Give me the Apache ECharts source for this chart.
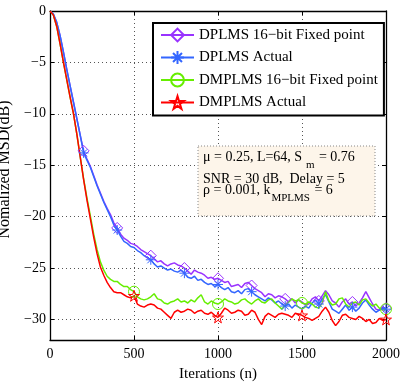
<!DOCTYPE html>
<html><head><meta charset="utf-8">
<script src="https://cdn.jsdelivr.net/npm/echarts@6/dist/echarts.min.js"></script>
<style>html,body{margin:0;padding:0;background:#fff}#c{width:409px;height:382px}</style>
</head><body><div id="c"></div>
<script>
const iterations = [0,20,40,60,80,100,120,140,160,180,200,220,240,260,280,300,320,340,360,380,400,420,440,460,480,500,520,540,560,580,600,620,640,660,680,700,720,740,760,780,800,820,840,860,880,900,920,940,960,980,1000,1020,1040,1060,1080,1100,1120,1140,1160,1180,1200,1220,1240,1260,1280,1300,1320,1340,1360,1380,1400,1420,1440,1460,1480,1500,1520,1540,1560,1580,1600,1620,1640,1660,1680,1700,1720,1740,1760,1780,1800,1820,1840,1860,1880,1900,1920,1940,1960,1980,2000];

const dplmsFixed = [0,-0.3,-1.1,-2.4,-4.0,-5.7,-7.3,-8.9,-10.5,-12.1,-13.6,-14.4,-15.1,-16.0,-16.9,-17.7,-18.5,-19.2,-19.8,-20.6,-21.1,-21.7,-22.1,-22.3,-22.6,-22.7,-22.9,-23.2,-23.4,-23.6,-23.8,-24.1,-24.4,-24.3,-24.6,-24.8,-24.6,-24.5,-24.7,-24.8,-25.0,-25.3,-25.6,-25.2,-25.4,-25.5,-25.7,-26.0,-25.9,-26.1,-26.0,-26.2,-26.4,-26.3,-26.8,-26.7,-26.6,-26.9,-26.5,-26.4,-26.7,-27.0,-27.2,-27.4,-27.8,-27.5,-27.6,-27.9,-27.7,-27.8,-28.0,-28.3,-28.0,-28.4,-28.1,-28.3,-28.6,-28.5,-28.0,-27.8,-28.2,-27.7,-27.2,-27.6,-28.2,-28.4,-28.8,-28.3,-28.0,-28.5,-28.3,-28.7,-28.4,-27.9,-27.3,-27.9,-28.5,-29.0,-29.1,-28.8,-28.9];

const dplmsActual = [0,-0.3,-1.1,-2.4,-4.0,-5.7,-7.3,-8.9,-10.5,-12.1,-13.8,-14.5,-15.2,-16.1,-17.0,-17.8,-18.6,-19.3,-20.0,-20.8,-21.3,-21.9,-22.4,-22.6,-22.9,-23.0,-23.3,-23.5,-23.8,-24.0,-24.2,-24.6,-24.9,-24.8,-25.0,-25.2,-25.1,-25.3,-25.4,-25.2,-25.5,-25.9,-26.0,-25.8,-26.2,-26.1,-26.4,-26.6,-26.5,-26.8,-26.6,-26.9,-27.1,-26.9,-27.3,-27.4,-27.2,-27.5,-27.1,-27.0,-27.3,-27.6,-27.8,-28.0,-28.2,-27.9,-28.1,-28.4,-28.2,-28.5,-28.7,-28.5,-28.9,-28.6,-28.8,-29.0,-28.7,-28.9,-28.4,-28.1,-28.5,-28.0,-27.6,-28.3,-29.0,-29.2,-29.4,-29.0,-28.6,-29.1,-28.8,-29.2,-28.9,-28.4,-28.1,-28.6,-29.0,-29.3,-29.1,-28.9,-29.0];

const dmplmsFixed = [0,-0.4,-1.5,-3.2,-5.0,-6.7,-8.4,-10.0,-12.0,-14.2,-16.3,-18.2,-19.9,-21.7,-23.2,-24.4,-25.2,-25.8,-26.1,-26.3,-26.3,-26.6,-26.8,-26.8,-27.1,-27.3,-27.8,-28.0,-28.1,-28.0,-27.8,-27.5,-28.0,-28.1,-28.4,-28.5,-28.3,-28.2,-28.0,-28.3,-28.2,-28.4,-28.1,-28.3,-27.9,-27.6,-28.3,-28.5,-28.2,-28.4,-28.5,-28.3,-28.0,-28.2,-28.3,-28.5,-28.4,-28.1,-28.0,-28.3,-28.5,-28.2,-28.0,-28.3,-28.4,-28.1,-28.0,-28.4,-28.7,-29.0,-28.6,-28.3,-28.0,-28.2,-28.1,-28.4,-28.5,-28.3,-28.5,-28.8,-28.9,-28.4,-27.3,-28.2,-28.6,-28.5,-28.0,-27.9,-28.5,-28.8,-28.4,-28.3,-28.6,-28.1,-28.0,-28.4,-28.7,-28.5,-28.9,-29.1,-29.0];

const dmplmsActual = [0,-0.4,-1.5,-3.2,-5.0,-6.7,-8.4,-10.0,-12.0,-14.2,-16.4,-18.4,-20.2,-22.0,-23.6,-24.9,-25.7,-26.4,-26.9,-27.3,-27.4,-27.4,-27.6,-27.8,-27.9,-27.7,-28.5,-28.7,-28.8,-28.6,-28.5,-28.6,-28.9,-29.0,-29.3,-29.6,-29.9,-29.3,-29.1,-29.3,-29.2,-29.0,-29.1,-29.4,-29.2,-29.1,-29.4,-29.5,-29.3,-29.6,-29.8,-29.4,-28.9,-29.1,-29.4,-29.3,-29.1,-29.2,-29.6,-29.5,-29.1,-29.3,-30.0,-30.5,-29.7,-29.4,-29.6,-29.8,-29.5,-29.4,-29.5,-29.6,-29.8,-29.4,-29.5,-29.6,-29.8,-29.9,-30.1,-29.9,-29.7,-29.2,-28.8,-29.3,-30.1,-30.6,-30.2,-29.6,-29.5,-29.8,-29.9,-30.0,-29.7,-29.9,-30.2,-30.0,-30.4,-30.3,-29.9,-30.1,-30.0];

const dplmsMarks = [200,400,600,800,1000,1200,1400,1600,1800,2000];
const dmplmsMarks = [500,1000,1500,2000];
const seriesNames = ['DPLMS 16\u2212bit Fixed point','DPLMS Actual','DMPLMS 16\u2212bit Fixed point','DMPLMS Actual'];
const xTicks = [0,500,1000,1500,2000];
const yTicks = [0,-5,-10,-15,-20,-25,-30];

const FONT = "'Liberation Serif','Times New Roman',serif";
const C = {purple:'#9933ff', blue:'#3366ff', green:'#66ee00', red:'#ff0000'};
const SYM = {
  diamond:'path://M0,-10L10,0L0,10L-10,0Z',
  asterisk:'path://M-10,0L10,0M0,-10L0,10M-7,-7L7,7M-7,7L7,-7',
  circle:'circle',
  star:'path://M0,-10L2.245,-3.09L9.511,-3.09L3.633,1.18L5.878,8.09L0,3.82L-5.878,8.09L-3.633,1.18L-9.511,-3.09L-2.245,-3.09Z'
};

function build(vals, marks){
  return iterations.map((n,i)=>{
    const it = {value:[n, -vals[i]]};
    if (marks.indexOf(n) < 0) it.symbol = 'none';
    return it;
  });
}
function mkSeries(name, vals, marks, color, sym, size){
  return {
    type:'line', name, data: build(vals, marks),
    symbol: sym, symbolSize: size, showSymbol:true, showAllSymbol:true,
    lineStyle:{color, width:1.5},
    itemStyle:{color:'rgba(255,255,255,0)', borderColor:color, borderWidth:1},
    emphasis:{disabled:true}, silent:true, z:2
  };
}

const chart = echarts.init(document.getElementById('c'), null, {renderer:'canvas'});

const mctx = document.createElement('canvas').getContext('2d');
function tw(s, size){ mctx.font = size + "px 'Liberation Serif'"; return mctx.measureText(s).width; }

const tx = 203;
const annot = [];
function addLine(y, main, sub, rest){
  annot.push({type:'text', x:tx, y:y, z:100, style:{text:main, font:"14px 'Liberation Serif'", fill:'#000', verticalAlign:'middle'}});
  if (sub){
    const x1 = tx + tw(main,14) + 1;
    annot.push({type:'text', x:x1, y:y+8, z:100, style:{text:sub, font:"11px 'Liberation Serif'", fill:'#000', verticalAlign:'middle'}});
    const x2 = x1 + tw(sub,11) + 1;
    annot.push({type:'text', x:x2, y:y, z:100, style:{text:rest, font:"14px 'Liberation Serif'", fill:'#000', verticalAlign:'middle'}});
  }
}
addLine(157, '\u03bc = 0.25, L=64, S', ' m', ' = 0.76');
addLine(179, 'SNR = 30 dB,  Delay = 5');
addLine(190, '\u03c1 = 0.001, k', 'MPLMS', ' = 6');

const xFmt = v => (xTicks.indexOf(v) >= 0 ? String(v) : '');
const yFmt = v => (v === 0 ? '0' : (yTicks.indexOf(-v) >= 0 ? '\u2212' + v : ''));
const axisCommon = {
  axisLine:{show:true, onZero:false, lineStyle:{color:'#000', width:1.3}},
  axisTick:{show:true, inside:true, length:4, lineStyle:{color:'#000', width:1}},
};

chart.setOption({
  animation:false,
  backgroundColor:'#fff',
  grid:{left:50, right:23, top:11, bottom:42, containLabel:false, outerBoundsMode:'none'},
  legend:{
    orient:'vertical', left:153, top:23,
    padding:[4,6,5,7], itemWidth:33, itemHeight:16, itemGap:6.5,
    borderColor:'#000', borderWidth:2, backgroundColor:'#fff',
    textStyle:{fontFamily:FONT, fontSize:15, color:'#000', lineHeight:16},
    data: seriesNames, selectedMode:false, z:50
  },
  xAxis:[
    Object.assign({type:'value', min:0, max:2000, interval:500, position:'bottom',
      axisLabel:{fontFamily:FONT, fontSize:14, color:'#000', margin:7, formatter:xFmt},
      splitLine:{show:true, lineStyle:{color:'#555', type:[1,3], width:1}},
      name:'Iterations (n)', nameLocation:'middle', nameGap:27,
      nameTextStyle:{fontFamily:FONT, fontSize:15, color:'#000'}}, axisCommon),
    Object.assign({type:'value', min:0, max:2000, interval:500, position:'top',
      axisLabel:{show:false}, splitLine:{show:false}}, axisCommon)
  ],
  yAxis:[
    Object.assign({type:'value', inverse:true, min:0, max:32, interval:5, position:'left',
      axisLabel:{fontFamily:FONT, fontSize:14, color:'#000', margin:4, formatter:yFmt},
      splitLine:{show:true, lineStyle:{color:'#555', type:[1,3], width:1}},
      name:'Nomalized MSD(dB)', nameLocation:'middle', nameGap:28,
      nameTextStyle:{fontFamily:FONT, fontSize:16, color:'#000', padding:[0,0,0,12]}}, axisCommon),
    Object.assign({type:'value', inverse:true, min:0, max:32, interval:5, position:'right',
      axisLabel:{show:false}, splitLine:{show:false}}, axisCommon)
  ],
  graphic:[
    {type:'rect', z:90, shape:{x:198, y:146, width:177, height:70},
     style:{fill:'#fdf5ea', stroke:'#888', lineWidth:1, lineDash:[1,2]}}
  ].concat(annot),
  series:[
    mkSeries(seriesNames[0], dplmsFixed, dplmsMarks, C.purple, SYM.diamond, 11),
    mkSeries(seriesNames[1], dplmsActual, dplmsMarks, C.blue, SYM.asterisk, 10),
    mkSeries(seriesNames[2], dmplmsFixed, dmplmsMarks, C.green, SYM.circle, 11),
    mkSeries(seriesNames[3], dmplmsActual, dmplmsMarks, C.red, SYM.star, 11)
  ]
});
</script></body></html>
